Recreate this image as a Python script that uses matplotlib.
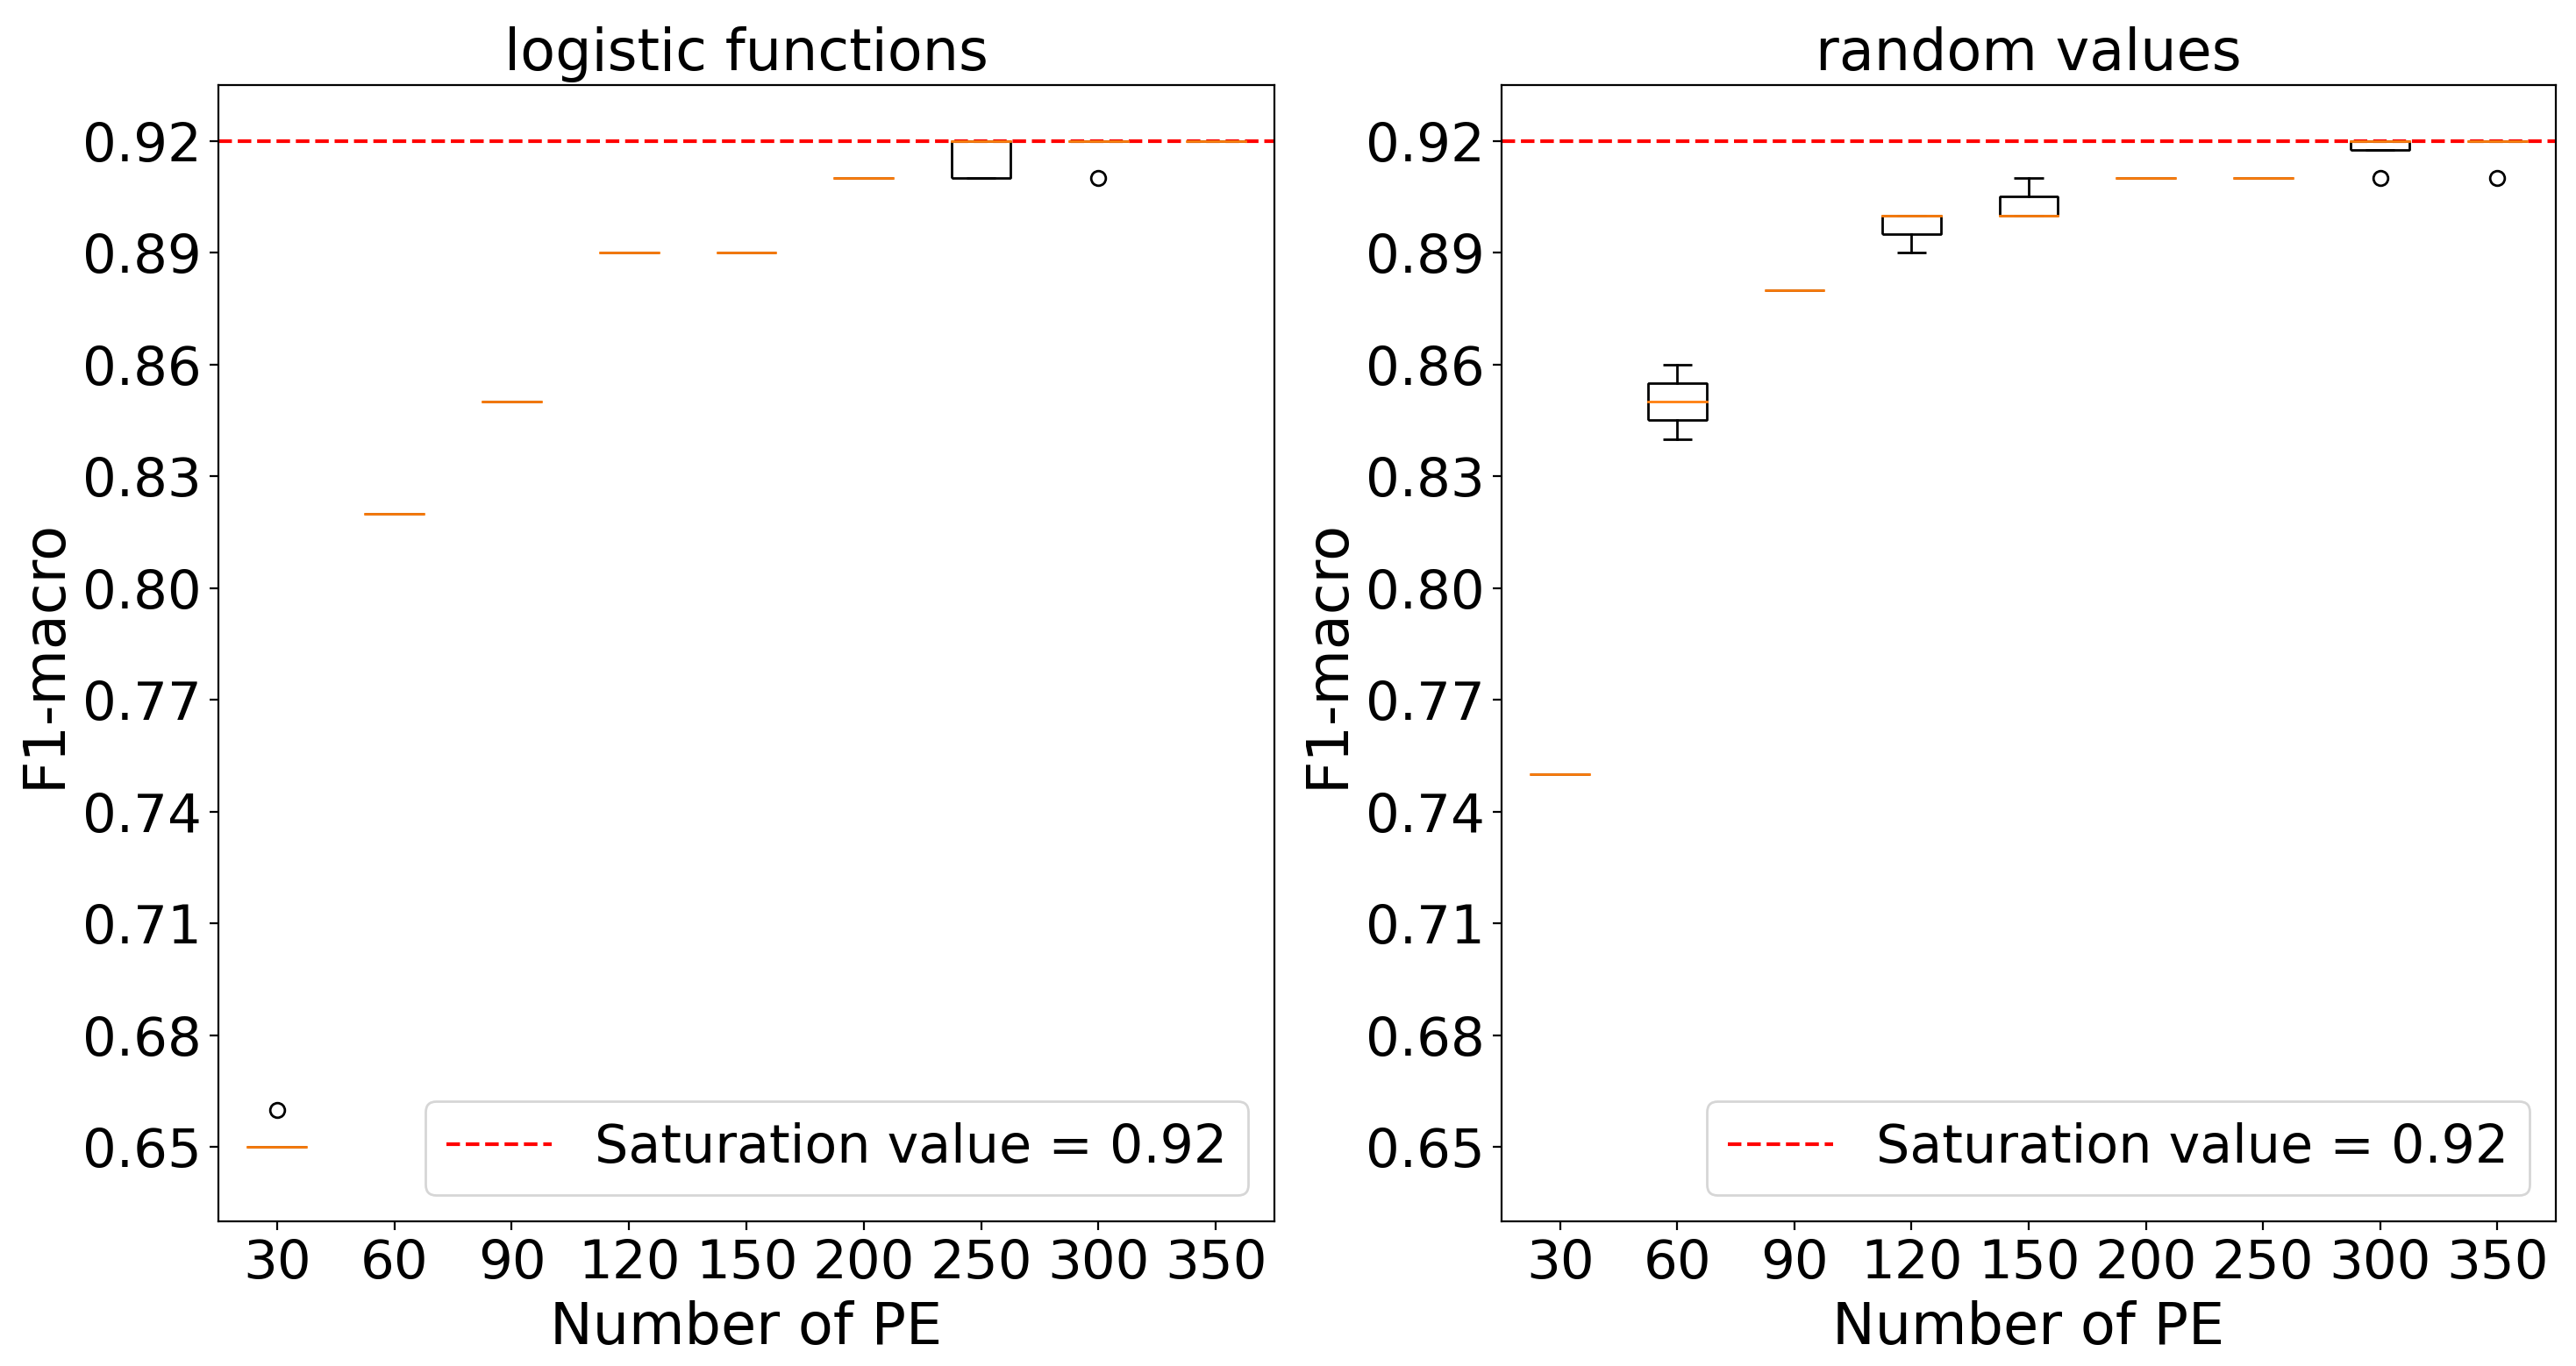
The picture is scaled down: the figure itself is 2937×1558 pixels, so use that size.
import matplotlib
matplotlib.use("Agg")
import matplotlib.pyplot as plt

# ---------------- data ----------------
pe_labels = ["30", "60", "90", "120", "150", "200", "250", "300", "350"]
saturation = 0.92

# logistic functions
log_med    = [0.65, 0.82, 0.85, 0.89, 0.89, 0.91, 0.92, 0.92, 0.92]
log_q1     = [0.65, 0.82, 0.85, 0.89, 0.89, 0.91, 0.91, 0.92, 0.92]
log_q3     = [0.65, 0.82, 0.85, 0.89, 0.89, 0.91, 0.92, 0.92, 0.92]
log_whislo = [0.65, 0.82, 0.85, 0.89, 0.89, 0.91, 0.91, 0.92, 0.92]
log_whishi = [0.65, 0.82, 0.85, 0.89, 0.89, 0.91, 0.92, 0.92, 0.92]
log_fliers = [[0.66], [], [], [], [], [], [], [0.91], []]

# random values
rnd_med    = [0.75, 0.85, 0.88, 0.90, 0.90, 0.91, 0.91, 0.92, 0.92]
rnd_q1     = [0.75, 0.845, 0.88, 0.895, 0.90, 0.91, 0.91, 0.9175, 0.92]
rnd_q3     = [0.75, 0.855, 0.88, 0.90, 0.905, 0.91, 0.91, 0.92, 0.92]
rnd_whislo = [0.75, 0.84, 0.88, 0.89, 0.90, 0.91, 0.91, 0.9175, 0.92]
rnd_whishi = [0.75, 0.86, 0.88, 0.90, 0.91, 0.91, 0.91, 0.92, 0.92]
rnd_fliers = [[], [], [], [], [], [], [], [0.91], [0.91]]

yticks = [0.65, 0.68, 0.71, 0.74, 0.77, 0.80, 0.83, 0.86, 0.89, 0.92]

panels = [
    ("logistic functions", log_med, log_q1, log_q3, log_whislo, log_whishi, log_fliers),
    ("random values", rnd_med, rnd_q1, rnd_q3, rnd_whislo, rnd_whishi, rnd_fliers),
]

# ---------------- figure ----------------
W, H = 2937, 1558
dpi = 200
fig = plt.figure(figsize=(W / dpi, H / dpi), dpi=dpi)

rects = [
    [249 / W, 1 - 1393 / H, (1453 - 249) / W, (1393 - 97) / H],
    [1712 / W, 1 - 1393 / H, (2914 - 1712) / W, (1393 - 97) / H],
]

TICK_FS = 22
LABEL_FS = 23.5
LEGEND_FS = 21.7

for rect, (title, med, q1, q3, wlo, whi, fl) in zip(rects, panels):
    ax = fig.add_axes(rect)
    ax.axhline(saturation, color="red", linestyle="--",
               label=f"Saturation value = {saturation}")
    stats = []
    for i, lab in enumerate(pe_labels):
        stats.append(dict(med=med[i], q1=q1[i], q3=q3[i],
                          whislo=wlo[i], whishi=whi[i],
                          fliers=fl[i], label=lab))
    ax.bxp(stats, positions=range(1, len(pe_labels) + 1), widths=0.5,
           boxprops=dict(solid_capstyle="butt", solid_joinstyle="bevel"),
           capprops=dict(solid_capstyle="butt"),
           medianprops=dict(color="#ff7f0e", solid_capstyle="projecting",
                            zorder=2.5))
    ax.set_xlim(0.5, len(pe_labels) + 0.5)
    ax.set_ylim(0.63, 0.935)
    ax.set_yticks(yticks)
    ax.set_yticklabels([f"{v:.2f}" for v in yticks])
    ax.tick_params(axis="both", labelsize=TICK_FS)
    ax.set_title(title, fontsize=LABEL_FS)
    ax.set_xlabel("Number of PE", fontsize=LABEL_FS)
    ax.set_ylabel("F1-macro", fontsize=LABEL_FS)
    ax.legend(loc="lower right", fontsize=LEGEND_FS)

fig.savefig("out.png", dpi=dpi)
